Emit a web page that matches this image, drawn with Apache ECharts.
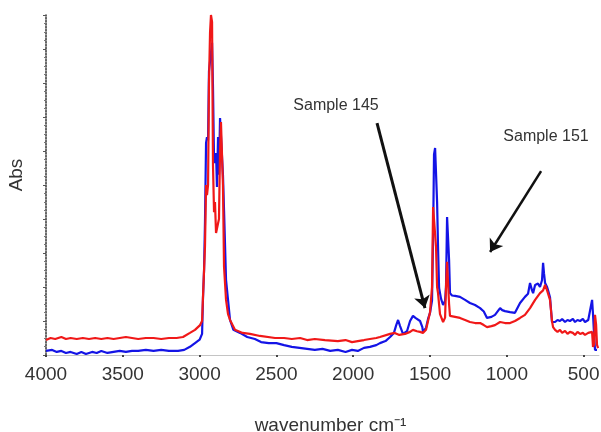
<!DOCTYPE html>
<html>
<head>
<meta charset="utf-8">
<script src="https://cdn.jsdelivr.net/npm/echarts@6/dist/echarts.min.js"></script>
<style>
  html, body { margin: 0; padding: 0; background: #ffffff; }
  #chart { width: 601px; height: 432px; }
</style>
</head>
<body>
<div id="chart"></div>
<script>
// FTIR absorbance spectra of two samples, wavenumber in cm^-1 (descending)
const blueWavenumber = [4000,3960,3930,3900,3870,3840,3800,3770,3740,3700,3670,3640,3600,3560,3520,3480,3440,3400,3350,3300,3250,3200,3140,3100,3063,3030,3000,2984,2978,2971,2965,2958,2952,2945,2939,2926,2919,2913,2906,2900,2893,2887,2880,2874,2867,2854,2848,2841,2828,2815,2802,2780,2737,2690,2640,2600,2550,2500,2450,2400,2350,2300,2250,2200,2150,2100,2050,2008,1970,1930,1891,1850,1826,1790,1760,1735,1720,1708,1695,1676,1663,1650,1630,1611,1595,1585,1565,1550,1546,1526,1513,1500,1487,1480,1474,1467,1461,1454,1448,1441,1435,1428,1415,1402,1396,1389,1383,1376,1370,1357,1337,1305,1272,1240,1207,1174,1150,1129,1100,1077,1044,1030,1012,979,947,914,882,862,849,836,829,816,797,784,771,764,758,751,738,732,719,706,699,686,670,654,640,621,605,589,570,556,540,523,505,491,470,458,445,439,432,426,413];
const blueAbs = [0.012,0.015,0.009,0.012,0.006,0.009,0.003,0.009,0.003,0.009,0.006,0.012,0.006,0.009,0.012,0.009,0.012,0.012,0.015,0.012,0.015,0.012,0.012,0.015,0.024,0.035,0.045,0.062,0.168,0.25,0.391,0.624,0.641,0.632,0.835,0.835,0.918,0.79,0.574,0.565,0.594,0.494,0.641,0.53,0.697,0.697,0.53,0.426,0.221,0.162,0.103,0.074,0.065,0.053,0.047,0.038,0.035,0.035,0.029,0.024,0.021,0.018,0.015,0.018,0.012,0.015,0.009,0.015,0.012,0.021,0.024,0.029,0.035,0.041,0.053,0.065,0.088,0.103,0.085,0.062,0.062,0.07,0.1,0.115,0.109,0.109,0.1,0.082,0.068,0.08,0.106,0.124,0.16,0.35,0.59,0.609,0.609,0.45,0.32,0.197,0.182,0.165,0.147,0.16,0.2,0.406,0.406,0.28,0.182,0.175,0.174,0.171,0.162,0.153,0.147,0.138,0.128,0.109,0.112,0.118,0.138,0.132,0.129,0.126,0.124,0.153,0.171,0.18,0.212,0.19,0.182,0.206,0.21,0.2,0.22,0.271,0.24,0.212,0.2,0.191,0.17,0.097,0.1,0.097,0.103,0.1,0.106,0.097,0.103,0.1,0.106,0.097,0.103,0.1,0.106,0.097,0.103,0.1,0.162,0.12,0.06,0.015,0.015];

const redWavenumber = [4000,3970,3940,3900,3870,3840,3800,3760,3720,3680,3640,3600,3560,3520,3480,3440,3400,3350,3300,3250,3200,3150,3108,3063,3030,2997,2984,2978,2971,2965,2958,2952,2945,2939,2932,2926,2919,2913,2906,2900,2893,2880,2874,2867,2861,2854,2848,2841,2828,2815,2802,2770,2720,2672,2607,2509,2450,2400,2346,2300,2250,2184,2100,2050,2008,1970,1930,1891,1850,1826,1760,1730,1700,1663,1630,1611,1585,1565,1546,1526,1513,1500,1487,1480,1467,1461,1454,1448,1435,1415,1402,1396,1389,1383,1376,1370,1337,1305,1272,1240,1207,1174,1150,1129,1100,1077,1044,1012,979,947,914,882,849,816,784,764,751,745,738,719,706,699,686,670,654,640,621,605,589,570,556,540,523,505,491,470,458,445,439,432,426,419,413,406];
const redAbs = [0.044,0.05,0.047,0.053,0.047,0.05,0.047,0.05,0.047,0.05,0.047,0.05,0.047,0.05,0.053,0.05,0.047,0.05,0.05,0.047,0.05,0.05,0.053,0.065,0.074,0.088,0.1,0.171,0.25,0.32,0.5,0.47,0.5,0.8,0.95,1.0,0.98,0.56,0.42,0.45,0.359,0.359,0.4,0.6,0.685,0.685,0.5,0.26,0.162,0.12,0.103,0.074,0.065,0.062,0.056,0.05,0.05,0.047,0.05,0.044,0.047,0.044,0.041,0.044,0.038,0.041,0.044,0.047,0.05,0.053,0.062,0.065,0.059,0.062,0.068,0.074,0.07,0.068,0.065,0.074,0.1,0.126,0.2,0.435,0.435,0.318,0.2,0.182,0.12,0.097,0.11,0.2,0.274,0.274,0.15,0.115,0.112,0.109,0.103,0.097,0.094,0.094,0.088,0.082,0.085,0.088,0.097,0.094,0.094,0.1,0.109,0.118,0.138,0.162,0.182,0.19,0.206,0.206,0.19,0.162,0.1,0.082,0.074,0.068,0.074,0.065,0.071,0.062,0.068,0.065,0.059,0.068,0.062,0.065,0.059,0.065,0.062,0.068,0.024,0.03,0.118,0.09,0.03,0.02];

const xTicks = [4000, 3500, 3000, 2500, 2000, 1500, 1000, 500];

// Callouts: text anchor and arrow start/end in data coordinates [wavenumber, abs]
const callout145 = { text: 'Sample 145', at: [2112, 0.735], from: [1845, 0.682], to: [1533, 0.138] };
const callout151 = { text: 'Sample 151', at: [745, 0.641], from: [777, 0.541], to: [1109, 0.303] };

const pairs = (xs, ys) => xs.map((x, i) => [x, ys[i]]);

const chart = echarts.init(document.getElementById('chart'), null, { renderer: 'canvas' });
const FONT = '"Liberation Sans", Arial, sans-serif';

chart.setOption({
  animation: false,
  backgroundColor: '#ffffff',
  grid: { left: 46, right: 2, top: 15, bottom: 77, containLabel: false, outerBoundsMode: 'none' },
  xAxis: {
    type: 'value',
    inverse: true,
    min: 400,
    max: 4000,
    name: 'wavenumber cm\u207B\u00B9',
    nameLocation: 'middle',
    nameGap: 61,
    nameTextStyle: { fontSize: 19, color: '#333333', fontFamily: FONT, padding: [0, 0, 0, 16] },
    axisLine: { onZero: false, lineStyle: { color: '#c4c4c4', width: 1 } },
    axisTick: { show: true, customValues: xTicks, length: 2, lineStyle: { color: '#444444', width: 2 } },
    axisLabel: { customValues: xTicks, formatter: v => String(v), fontSize: 19, color: '#333333', fontFamily: FONT, margin: 10 },
    splitLine: { show: false }
  },
  yAxis: {
    type: 'value',
    min: 0,
    max: 1,
    interval: 0.1,
    axisLine: { show: true, onZero: false, lineStyle: { color: '#333333', width: 1.5, type: 'dotted' } },
    axisTick: { show: true, length: 3, lineStyle: { color: '#555555' } },
    minorTick: { show: true, splitNumber: 4, length: 2, lineStyle: { color: '#777777' } },
    axisLabel: { show: false },
    splitLine: { show: false }
  },
  series: [
    {
      name: 'Sample 151',
      type: 'line',
      data: pairs(blueWavenumber, blueAbs),
      showSymbol: false,
      lineStyle: { color: '#1414e6', width: 2.2 },
      z: 2,
      markLine: {
        silent: true,
        symbol: ['none', 'arrow'],
        symbolSize: 12,
        label: { show: false },
        lineStyle: { color: '#111111', width: 3, type: 'solid' },
        data: [
          [{ coord: callout145.from }, { coord: callout145.to }],
          [{ coord: callout151.from }, { coord: callout151.to, lineStyle: { width: 2.5 } }]
        ]
      }
    },
    {
      name: 'Sample 145',
      type: 'line',
      data: pairs(redWavenumber, redAbs),
      showSymbol: false,
      lineStyle: { color: '#f01818', width: 2.2 },
      z: 3
    }
  ]
});

// Place the callout texts and the rotated y-axis title
const p145 = chart.convertToPixel({ gridIndex: 0 }, callout145.at);
const p151 = chart.convertToPixel({ gridIndex: 0 }, callout151.at);
chart.setOption({
  graphic: [
    { type: 'text', x: p145[0], y: p145[1], style: { text: callout145.text, font: '16px ' + FONT, fill: '#333333', align: 'center', verticalAlign: 'middle' } },
    { type: 'text', x: p151[0], y: p151[1], style: { text: callout151.text, font: '16px ' + FONT, fill: '#333333', align: 'center', verticalAlign: 'middle' } },
    { type: 'text', x: 17, y: 175, rotation: Math.PI / 2, style: { text: 'Abs', font: '19px ' + FONT, fill: '#333333', align: 'center', verticalAlign: 'middle' } }
  ]
});
</script>
</body>
</html>
